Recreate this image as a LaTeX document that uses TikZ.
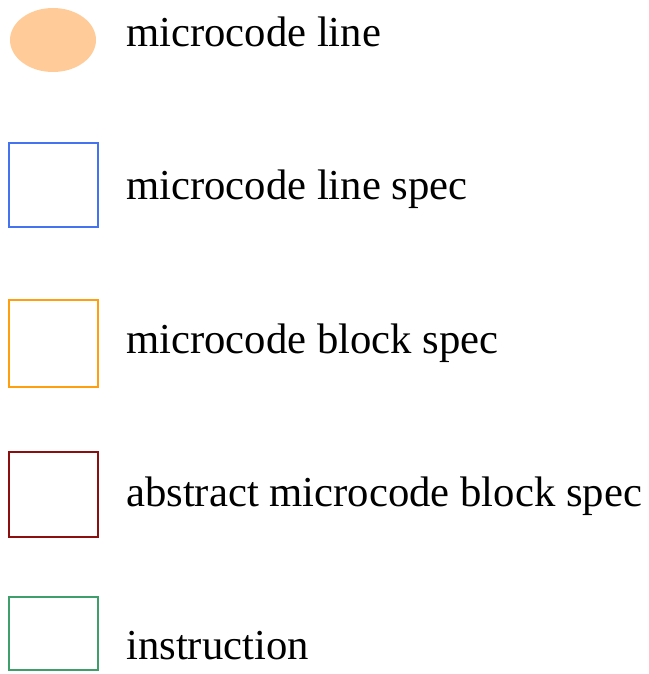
\documentclass[tikz,border=0pt]{standalone}
\usepackage{fontspec}
\setmainfont{Liberation Serif}
\usetikzlibrary{shapes.geometric}
\definecolor{peach}{HTML}{FFCC99}
\definecolor{specblue}{HTML}{4473F0}
\definecolor{blockorange}{HTML}{FF9E0F}
\definecolor{abstractred}{HTML}{8B0F0F}
\definecolor{instrgreen}{HTML}{3E9F6A}
\tikzset{
  x=1pt, y=-1pt,
  legendbox/.style={draw, line width=2pt, minimum width=89pt, inner sep=0pt, anchor=north west},
  legendtext/.style={anchor=base west, inner sep=0pt, font=\fontsize{42.7}{50}\selectfont}
}
\begin{document}
\begin{tikzpicture}
  \useasboundingbox (0,0) rectangle (648,674);
  % legend symbols
  \node[ellipse, fill=peach, minimum width=86pt, minimum height=64pt, inner sep=0pt] (line) at (53,40) {};
  \node[legendbox, draw=specblue, minimum height=84pt] (linespec) at (8,142) {};
  \node[legendbox, draw=blockorange, minimum height=87pt] (blockspec) at (8,299) {};
  \node[legendbox, draw=abstractred, minimum height=85pt] (abstractspec) at (8,451) {};
  \node[legendbox, draw=instrgreen, minimum height=73pt] (instr) at (8,596) {};
  % legend labels
  \node[legendtext] (lineT) at (126,47) {microcode line};
  \node[legendtext] (linespecT) at (126,199) {microcode line spec};
  \node[legendtext] (blockspecT) at (126,353) {microcode block spec};
  \node[legendtext] (abstractspecT) at (126,506) {abstract microcode block spec};
  \node[legendtext] (instrT) at (126,659) {instruction};
\end{tikzpicture}
\end{document}
